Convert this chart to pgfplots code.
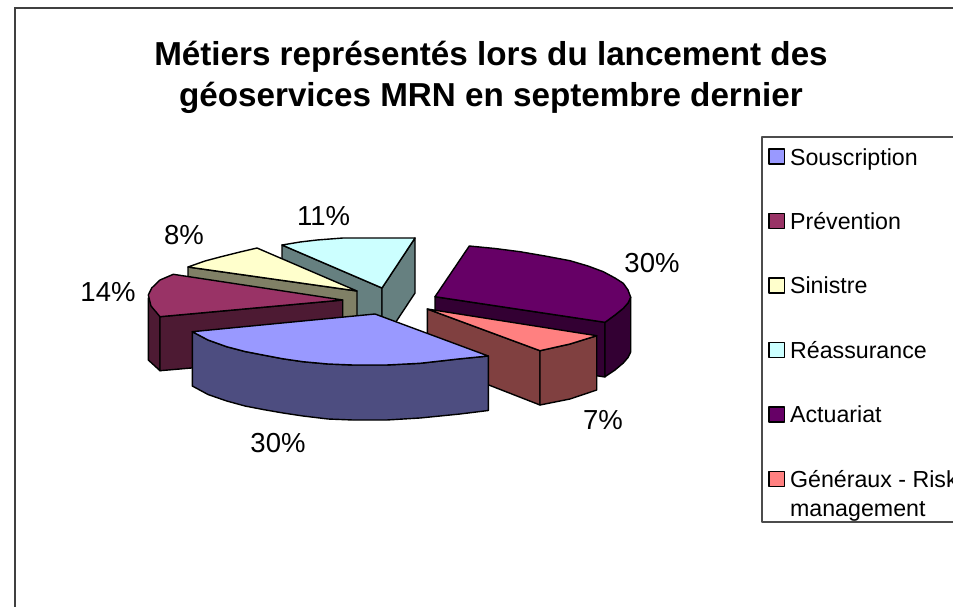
\documentclass[border=0pt]{standalone}
\usepackage{pgfplots}
\pgfplotsset{compat=1.18}
\usepackage{fontspec}
\setmainfont{Liberation Sans}
\definecolor{cA}{HTML}{9999FF}\definecolor{dA}{HTML}{4D4D80}
\definecolor{cB}{HTML}{993366}\definecolor{dB}{HTML}{4D1A33}
\definecolor{cC}{HTML}{FFFFCC}\definecolor{dC}{HTML}{808066}
\definecolor{cD}{HTML}{CCFFFF}\definecolor{dD}{HTML}{668080}
\definecolor{cE}{HTML}{660066}\definecolor{dE}{HTML}{330033}
\definecolor{cF}{HTML}{FF8080}\definecolor{dF}{HTML}{804040}
\begin{document}
\begin{tikzpicture}
\clip (0,0) rectangle (953pt,607pt);
\begin{axis}[
  scale only axis, width=953pt, height=607pt,
  xmin=0, xmax=953, ymin=0, ymax=607, y dir=reverse,
  hide axis, clip=false,
  every axis plot/.append style={mark=none, forget plot, line width=1.4pt, draw=black, line join=round},
  legend image code/.code={\draw[#1,line width=1.4pt] (0pt,1pt) rectangle (15.5pt,16pt);},
  legend cell align=left,
  legend style={at={(axis cs:762,137)}, anchor=north west, draw=none, fill=none,
    font=\fontsize{23.2}{29}\selectfont, inner xsep=6pt, inner ysep=9pt,
    row sep=42pt, column sep=3pt,
    nodes={anchor=base west}},
]
\addlegendimage{draw=black,fill=cA}\addlegendentry{Souscription}
\addlegendimage{draw=black,fill=cB}\addlegendentry{Prévention}
\addlegendimage{draw=black,fill=cC}\addlegendentry{Sinistre}
\addlegendimage{draw=black,fill=cD}\addlegendentry{Réassurance}
\addlegendimage{draw=black,fill=cE}\addlegendentry{Actuariat}
\addlegendimage{draw=black,fill=cF}\addlegendentry{\parbox[t]{200pt}{Généraux - Risk\\management}}
% frame
\addplot[draw=black!75, line width=2pt] coordinates {(14.5,607) (14.5,8)};
\addplot[draw=black!75, line width=1.2pt] coordinates {(14,8) (953,8)};
% legend frame
\addplot[draw=black!70, line width=1.2pt] coordinates {(953,137) (762,137) (762,522) (953,522)};
% Reassurance
\addplot[fill=dD] coordinates {(282,245) (382,288) (382,345) (282,300)} --cycle;
\addplot[fill=dD] coordinates {(382,288) (415,238) (415,293) (382,343)} --cycle;
\addplot[fill=cD] coordinates {(282,245) (300,242) (317,240) (343,238) (415,238) (382,288)} --cycle;
% Sinistre
\addplot[fill=dC] coordinates {(188,267) (357,291) (357,346) (188,322)} --cycle;
\addplot[fill=cC] coordinates {(188,267) (205,261) (220,257) (240,252) (257,248) (357,291)} --cycle;
% Prevention
\addplot[fill=dB] coordinates {(148.3,298) (153,304) (160,316.7) (160,370.7) (148.3,360)} --cycle;
\addplot[fill=dB] coordinates {(160,316.7) (342.7,300) (342.7,355) (160,370.7)} --cycle;
\addplot[fill=cB] coordinates {(342.7,300) (173.3,274.3) (160,280) (151.7,288) (148.3,295) (151,306) (160,316.7)} --cycle;
% Actuariat
\addplot[fill=dE] coordinates {(435,296.7) (605,322.3) (605,377) (435,351)} --cycle;
\addplot[fill=dE] coordinates {(605,322.3) (615,315) (623.3,308.3) (628,303) (630.7,297.3) (630.7,352) (628,357.5) (623.3,363) (615,370) (605,376.7)} --cycle;
\addplot[fill=cE] coordinates {(469.3,246) (495,248.5) (520,251.7) (545,256) (570,260.7) (588,266) (603.3,271.7) (615,278) (623.3,283.3) (628,290) (630.7,297.3) (628,303) (623.3,308.3) (615,315) (605,322.3) (435,296.7)} --cycle;
% Generaux
\addplot[fill=dF] coordinates {(427.3,309) (540,350.7) (540,405) (427.3,361)} --cycle;
\addplot[fill=dF] coordinates {(540,350.7) (570,344) (596.7,335.7) (596.7,390) (570,399) (540,405)} --cycle;
\addplot[fill=cF] coordinates {(427.3,309) (596.7,335.7) (570,344) (540,350.7)} --cycle;
% Souscription
\addplot[fill=dA] coordinates {(192.3,331.7) (208,340) (226.7,346.7) (245,351.5) (263,355) (283,358.8) (303,361.7) (328,364) (353,365) (386.7,365) (420,363.3) (460,358.8) (488.3,356) (488.3,410.5) (460,414) (420,418) (386.7,420) (353,420) (328,419) (303,416) (283,413) (263,409.5) (245,406) (226.7,401) (208,394.5) (192.3,386)} --cycle;
\addplot[fill=cA] coordinates {(192.3,331.7) (375,314) (488.3,356) (460,358.8) (420,363.3) (386.7,365) (353,365) (328,364) (303,361.7) (283,358.8) (263,355) (245,351.5) (226.7,346.7) (208,340)} --cycle;
% text
\node[font=\fontsize{33.2}{41}\selectfont\bfseries, align=center] at (axis cs:491,77.5) {Métiers représentés lors du lancement des\\géoservices MRN en septembre dernier};
\node[font=\fontsize{27.5}{32}\selectfont] at (axis cs:323.5,216) {11\%};
\node[font=\fontsize{27.5}{32}\selectfont] at (axis cs:184,235) {8\%};
\node[font=\fontsize{27.5}{32}\selectfont] at (axis cs:108,292) {14\%};
\node[font=\fontsize{27.5}{32}\selectfont] at (axis cs:278,443) {30\%};
\node[font=\fontsize{27.5}{32}\selectfont] at (axis cs:603,420) {7\%};
\node[font=\fontsize{27.5}{32}\selectfont] at (axis cs:652,263) {30\%};
\end{axis}
\end{tikzpicture}
\end{document}
